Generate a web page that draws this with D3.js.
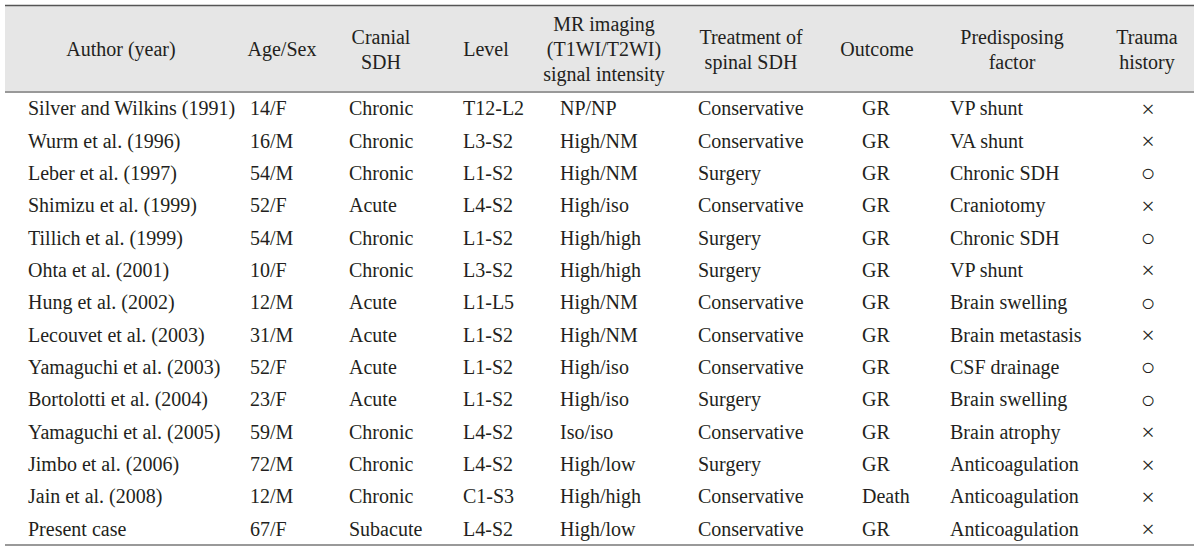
<!DOCTYPE html>
<html>
<head>
<meta charset="utf-8">
<script src="https://cdn.jsdelivr.net/npm/d3@7"></script>
<style>
  body { margin: 0; background: #fff; }
  svg text { font-family: "Liberation Serif", "DejaVu Serif", serif; fill: #231f20; }
</style>
</head>
<body>
<div id="chart"></div>
<script>
// table content
const headers = [
    ["Author (year)"], ["Age/Sex"], ["Cranial", "SDH"], ["Level"],
    ["MR imaging", "(T1WI/T2WI)", "signal intensity"], ["Treatment of", "spinal SDH"],
    ["Outcome"], ["Predisposing", "factor"], ["Trauma", "history"]
];
const authors = ["Silver and Wilkins (1991)", "Wurm et al. (1996)", "Leber et al. (1997)", "Shimizu et al. (1999)",
    "Tillich et al. (1999)", "Ohta et al. (2001)", "Hung et al. (2002)", "Lecouvet et al. (2003)",
    "Yamaguchi et al. (2003)", "Bortolotti et al. (2004)", "Yamaguchi et al. (2005)", "Jimbo et al. (2006)",
    "Jain et al. (2008)", "Present case"];
const ageSex = ["14/F", "16/M", "54/M", "52/F", "54/M", "10/F", "12/M", "31/M", "52/F", "23/F", "59/M", "72/M", "12/M", "67/F"];
const cranialSDH = ["Chronic", "Chronic", "Chronic", "Acute", "Chronic", "Chronic", "Acute", "Acute", "Acute", "Acute",
    "Chronic", "Chronic", "Chronic", "Subacute"];
const level = ["T12-L2", "L3-S2", "L1-S2", "L4-S2", "L1-S2", "L3-S2", "L1-L5", "L1-S2", "L1-S2", "L1-S2", "L4-S2", "L4-S2", "C1-S3", "L4-S2"];
const mrSignal = ["NP/NP", "High/NM", "High/NM", "High/iso", "High/high", "High/high", "High/NM", "High/NM", "High/iso",
    "High/iso", "Iso/iso", "High/low", "High/high", "High/low"];
const treatment = ["Conservative", "Conservative", "Surgery", "Conservative", "Surgery", "Surgery", "Conservative",
    "Conservative", "Conservative", "Surgery", "Conservative", "Surgery", "Conservative", "Conservative"];
const outcome = ["GR", "GR", "GR", "GR", "GR", "GR", "GR", "GR", "GR", "GR", "GR", "GR", "Death", "GR"];
const predisposing = ["VP shunt", "VA shunt", "Chronic SDH", "Craniotomy", "Chronic SDH", "VP shunt", "Brain swelling",
    "Brain metastasis", "CSF drainage", "Brain swelling", "Brain atrophy", "Anticoagulation", "Anticoagulation", "Anticoagulation"];
const trauma = ["×", "×", "○", "×", "○", "×", "○", "×", "○", "○", "×", "×", "×", "×"];

const columns = [authors, ageSex, cranialSDH, level, mrSignal, treatment, outcome, predisposing, trauma];

const width = 1200, height = 551;
const tableLeft = 5, tableRight = 1194;
const headTop = 5, headBottom = 92, tableBottom = 545;

// header centres and body text anchors for each column
const headX = [121, 282, 381, 486, 604, 751, 877, 1012, 1147];
const bodyX = [28, 250, 349, 463, 560, 698, 862, 950, 1148];
const bodyAnchor = ["start", "start", "start", "start", "start", "start", "start", "start", "middle"];

const svg = d3.select("#chart").append("svg")
    .attr("width", width).attr("height", height);

// header band
svg.append("rect")
    .attr("x", tableLeft).attr("y", headTop)
    .attr("width", tableRight - tableLeft).attr("height", headBottom - headTop)
    .attr("fill", "#e6e6e6");

svg.append("line").attr("x1", tableLeft).attr("x2", tableRight)
    .attr("y1", headTop + 0.5).attr("y2", headTop + 0.5)
    .attr("stroke", "#555").attr("stroke-width", 1.5);
svg.append("line").attr("x1", tableLeft).attr("x2", tableRight)
    .attr("y1", headBottom).attr("y2", headBottom)
    .attr("stroke", "#999").attr("stroke-width", 2);
svg.append("line").attr("x1", tableLeft).attr("x2", tableRight)
    .attr("y1", tableBottom).attr("y2", tableBottom)
    .attr("stroke", "#999").attr("stroke-width", 2);

// header text
const headMid = 49, lineGap = 25;
headers.forEach((lines, i) => {
    const t = svg.append("text")
        .attr("x", headX[i])
        .attr("text-anchor", "middle")
        .attr("font-size", 20);
    lines.forEach((s, j) => {
        t.append("tspan")
            .attr("x", headX[i])
            .attr("y", headMid + (j - (lines.length - 1) / 2) * lineGap)
            .attr("dy", "0.35em")
            .text(s);
    });
});

// body rows
const y = d3.scaleBand()
    .domain(d3.range(authors.length))
    .range([headBottom, tableBottom])
    .paddingInner(0).paddingOuter(0.0);

columns.forEach((col, i) => {
    svg.append("g").selectAll("text")
        .data(col)
        .join("text")
        .attr("x", bodyX[i])
        .attr("y", (d, r) => y(r) + y.bandwidth() / 2)
        .attr("dy", "0.35em")
        .attr("text-anchor", bodyAnchor[i])
        .attr("font-size", i === 8 ? 24 : 20)
        .text(d => d);
});
</script>
</body>
</html>
